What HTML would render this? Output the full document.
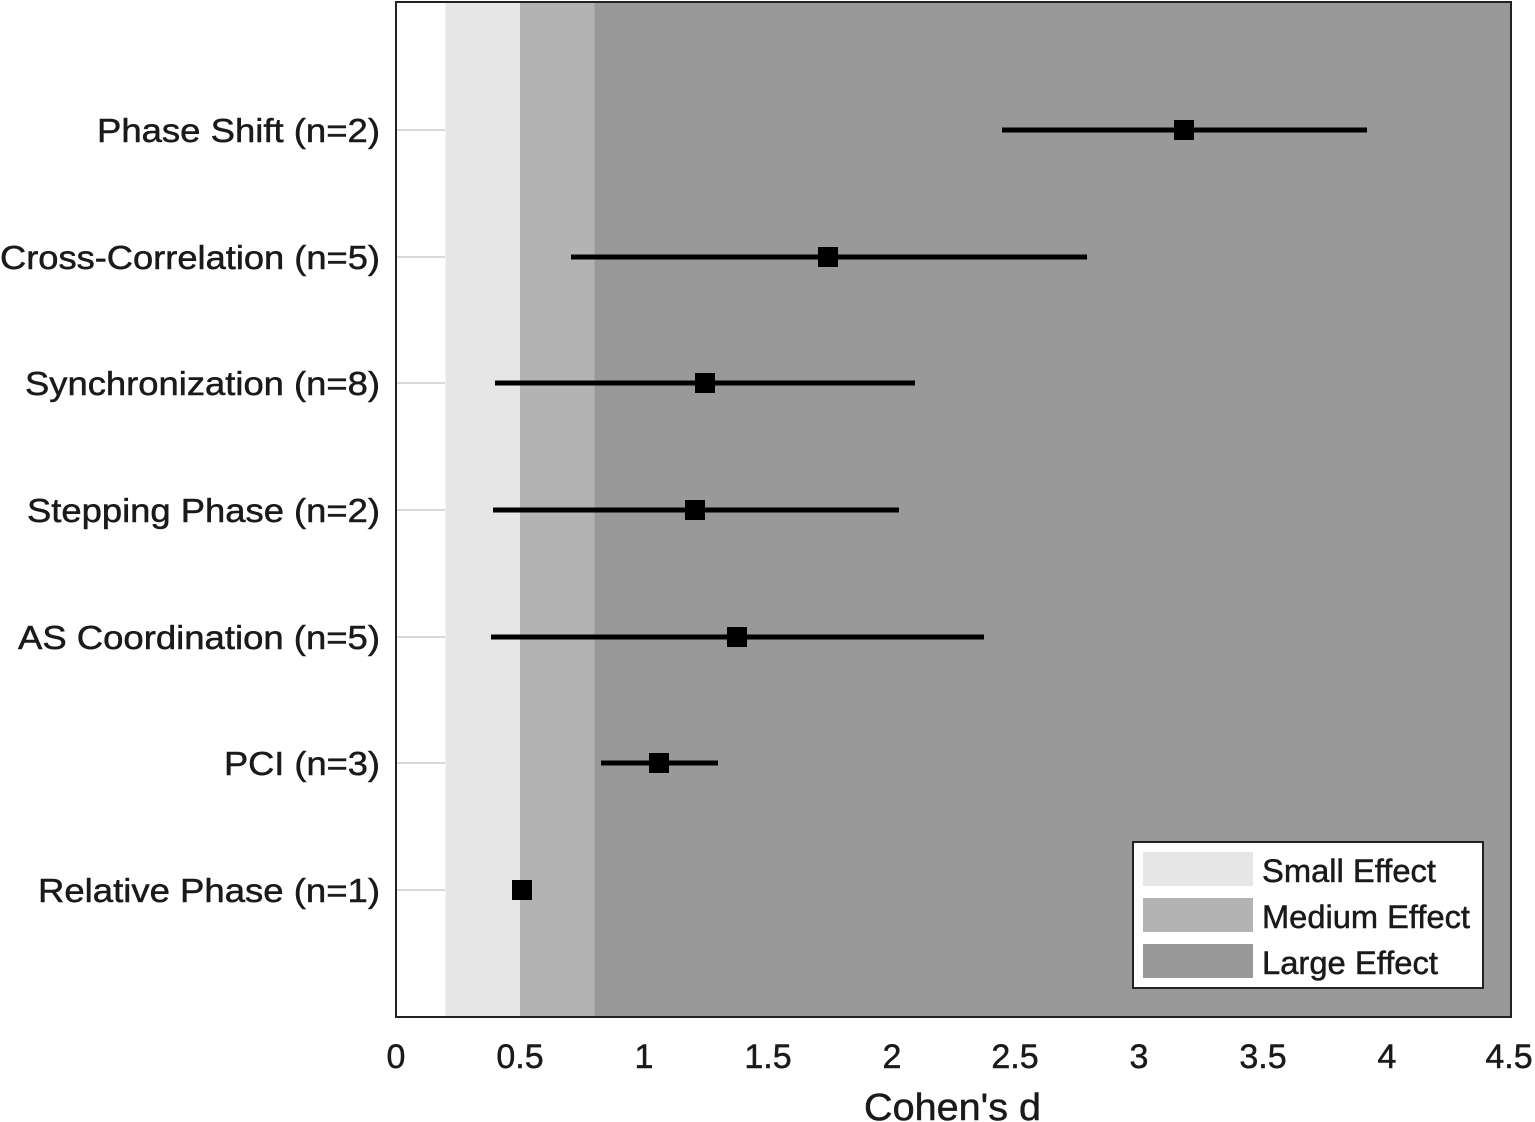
<!DOCTYPE html>
<html><head><style>body{margin:0;background:#fff}svg{display:block}text{font-family:"Liberation Sans",Arial,sans-serif;fill:#1a1a1a;stroke:#1a1a1a;stroke-width:0.5}</style></head><body>
<svg width="1535" height="1122" viewBox="0 0 1535 1122" xmlns="http://www.w3.org/2000/svg">
<rect x="396" y="2" width="1115" height="1015" fill="#fff"/>
<rect x="445.5" y="2" width="74.5" height="1015" fill="#e6e6e6"/>
<rect x="520" y="2" width="74.5" height="1015" fill="#b3b3b3"/>
<rect x="594.5" y="2" width="916.5" height="1015" fill="#999"/>
<g stroke="#d9d9d9" stroke-width="2">
<line x1="397" y1="130" x2="445" y2="130"/><line x1="397" y1="257" x2="445" y2="257"/><line x1="397" y1="383" x2="445" y2="383"/><line x1="397" y1="510" x2="445" y2="510"/><line x1="397" y1="637" x2="445" y2="637"/><line x1="397" y1="763" x2="445" y2="763"/><line x1="397" y1="890" x2="445" y2="890"/>
</g>
<rect x="396" y="2" width="1115" height="1015" fill="none" stroke="#222" stroke-width="2"/>
<g stroke="#000" stroke-width="5">
<line x1="1002" y1="130" x2="1367" y2="130"/>
<line x1="571" y1="257" x2="1087" y2="257"/>
<line x1="495" y1="383" x2="915" y2="383"/>
<line x1="493" y1="510" x2="899" y2="510"/>
<line x1="491" y1="637" x2="984" y2="637"/>
<line x1="601" y1="763" x2="718" y2="763"/>
</g>
<g fill="#000">
<rect x="1174" y="120" width="20" height="20"/>
<rect x="818" y="247" width="20" height="20"/>
<rect x="695" y="373" width="20" height="20"/>
<rect x="685" y="500" width="20" height="20"/>
<rect x="727" y="627" width="20" height="20"/>
<rect x="649" y="753" width="20" height="20"/>
<rect x="512" y="880" width="20" height="20"/>
</g>
<g font-size="33" lengthAdjust="spacingAndGlyphs">
<text x="97" y="142" textLength="283" lengthAdjust="spacingAndGlyphs">Phase Shift (n=2)</text>
<text x="0" y="269" textLength="380" lengthAdjust="spacingAndGlyphs">Cross-Correlation (n=5)</text>
<text x="25" y="395" textLength="355" lengthAdjust="spacingAndGlyphs">Synchronization (n=8)</text>
<text x="27" y="522" textLength="353" lengthAdjust="spacingAndGlyphs">Stepping Phase (n=2)</text>
<text x="18" y="649" textLength="362" lengthAdjust="spacingAndGlyphs">AS Coordination (n=5)</text>
<text x="224" y="775" textLength="156" lengthAdjust="spacingAndGlyphs">PCI (n=3)</text>
<text x="38" y="902" textLength="342" lengthAdjust="spacingAndGlyphs">Relative Phase (n=1)</text>
</g>
<g font-size="34" text-anchor="middle">
<text x="396" y="1068">0</text><text x="520" y="1068">0.5</text><text x="644" y="1068">1</text><text x="768" y="1068">1.5</text><text x="892" y="1068">2</text><text x="1015" y="1068">2.5</text><text x="1139" y="1068">3</text><text x="1263" y="1068">3.5</text><text x="1387" y="1068">4</text><text x="1509" y="1068">4.5</text>
</g>
<text x="864" y="1120" font-size="38" textLength="177" lengthAdjust="spacingAndGlyphs">Cohen's d</text>
<rect x="1133" y="842" width="350" height="146" fill="#fff" stroke="#222" stroke-width="2"/>
<rect x="1143" y="852" width="110" height="34" fill="#e6e6e6"/>
<rect x="1143" y="898" width="110" height="34" fill="#b3b3b3"/>
<rect x="1143" y="944" width="110" height="34" fill="#999"/>
<g font-size="32">
<text x="1262" y="882" textLength="174" lengthAdjust="spacingAndGlyphs">Small Effect</text>
<text x="1262" y="928" textLength="208" lengthAdjust="spacingAndGlyphs">Medium Effect</text>
<text x="1262" y="974" textLength="176" lengthAdjust="spacingAndGlyphs">Large Effect</text>
</g>
</svg>
</body></html>
